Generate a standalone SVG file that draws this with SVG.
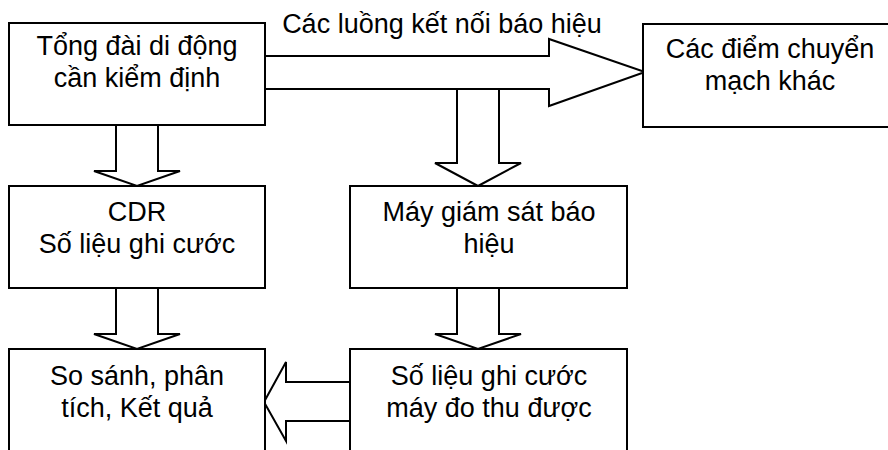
<svg xmlns="http://www.w3.org/2000/svg" width="888" height="450" viewBox="0 0 888 450">
<style>
.box{fill:#fff;stroke:#000;stroke-width:2}
.arr{fill:#fff;stroke:#000;stroke-width:2;stroke-linejoin:miter}
text{font-family:"Liberation Sans",Arial,sans-serif;font-size:27px;fill:#000;text-anchor:middle}
</style>
<rect width="888" height="450" fill="#fff"/>
<g id="connectors">
<polygon class="arr" points="265,56 549,56 549,39 645,72 549,106 549,89 265,89"/>
<polygon class="arr" points="457,89 499,89 499,163 521,163 478,186 435,163 457,163"/>
<polygon class="arr" points="116,125 158,125 158,171 180,171 137,186 94,171 116,171"/>
<polygon class="arr" points="116,288 158,288 158,334 180,334 137,349 94,334 116,334"/>
<polygon class="arr" points="457,288 499,288 499,334 521,334 478,349 435,334 457,334"/>
<polygon class="arr" points="350,382 286,382 286,362 264,402 286,441 286,421 350,421"/>
<text x="442" y="33">Các luồng kết nối báo hiệu</text>
</g>
<g id="node-tongdai">
<rect class="box" x="9" y="23" width="256" height="102"/>
<text x="137" y="55">Tổng đài di động</text>
<text x="137" y="87">cần kiểm định</text>
</g>
<g id="node-diemchuyen">
<rect class="box" x="643" y="24" width="254" height="103"/>
<text x="770" y="58">Các điểm chuyển</text>
<text x="770" y="90">mạch khác</text>
</g>
<g id="node-cdr">
<rect class="box" x="9" y="186" width="256" height="102"/>
<text x="137" y="221">CDR</text>
<text x="137" y="253">Số liệu ghi cước</text>
</g>
<g id="node-giamsat">
<rect class="box" x="350" y="186" width="277" height="102"/>
<text x="489" y="221">Máy giám sát báo</text>
<text x="489" y="253">hiệu</text>
</g>
<g id="node-sosanh">
<rect class="box" x="9" y="349" width="256" height="110"/>
<text x="137" y="385">So sánh, phân</text>
<text x="137" y="417">tích, Kết quả</text>
</g>
<g id="node-solieu">
<rect class="box" x="350" y="349" width="277" height="110"/>
<text x="489" y="385">Số liệu ghi cước</text>
<text x="489" y="417">máy đo thu được</text>
</g>
</svg>
